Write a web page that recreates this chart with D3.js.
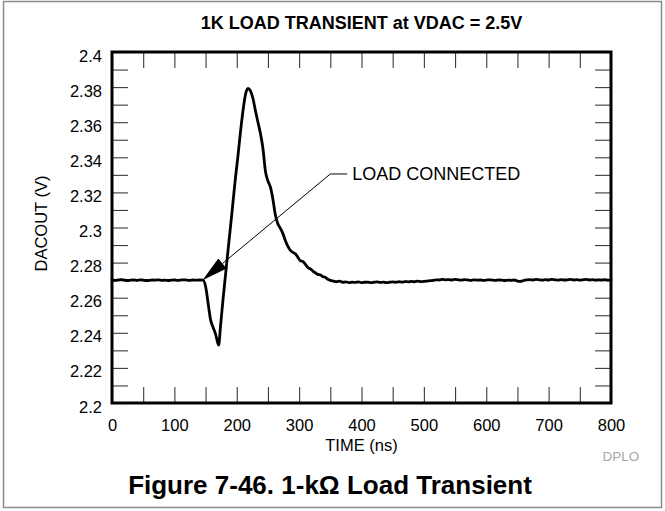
<!DOCTYPE html>
<html>
<head>
<meta charset="utf-8">
<script src="https://cdn.jsdelivr.net/npm/d3@7/dist/d3.min.js"></script>
<style>
  html, body { margin: 0; padding: 0; background: #fff; }
  svg { display: block; }
  text { font-family: "Liberation Sans", Arial, Helvetica, sans-serif; fill: #000; }
</style>
</head>
<body>
<script>
// ---------------- data ----------------
const chartTitle = "1K LOAD TRANSIENT at VDAC = 2.5V";
const xAxisTitle = "TIME (ns)";
const yAxisTitle = "DACOUT (V)";
const caption = "Figure 7-46. 1-k\u03A9 Load Transient";
const sourceTag = "DPLO";
const annotationText = "LOAD CONNECTED";

const xDomain = [0, 800];
const yDomain = [2.2, 2.4];
const xTickLabels = [0, 100, 200, 300, 400, 500, 600, 700, 800];
const xMinorTicks = [0, 50, 100, 150, 200, 250, 300, 350, 400, 450, 500, 550, 600, 650, 700, 750, 800];
const yTickLabels = [2.2, 2.22, 2.24, 2.26, 2.28, 2.3, 2.32, 2.34, 2.36, 2.38, 2.4];
const yMinorTicks = [2.2, 2.21, 2.22, 2.23, 2.24, 2.25, 2.26, 2.27, 2.28, 2.29, 2.3, 2.31, 2.32, 2.33, 2.34, 2.35, 2.36, 2.37, 2.38, 2.39, 2.4];

// annotation anchor (arrow tip), elbow, text anchor in data units
const annotationTip = [145, 2.2700];
const annotationElbow = [350, 2.3305];
const annotationLabel = [385, 2.3278];

const timeNs = [
  0, 5, 10, 15, 20, 25, 30, 35, 40, 45, 50, 55, 60, 65, 70, 75, 80, 85, 90, 95,
  100, 105, 110, 115, 120, 125, 130, 135, 140, 146,
  150, 155, 158, 162, 166, 170, 171, 174, 178, 182, 186, 190, 194, 198, 202, 206, 210, 214, 218,
  222, 226, 230, 234, 238, 242, 246, 250, 254, 258, 262, 266, 270, 274, 278, 282, 286, 290, 294, 298,
  302, 306, 310, 314, 318, 322, 326, 330, 334, 338, 342, 346, 350,
  355, 360, 365, 370, 375, 380, 385, 390, 395, 400, 405, 410, 415, 420, 425, 430, 435, 440, 445, 450,
  455, 460, 465, 470, 475, 480, 485, 490, 495, 500, 505, 510, 515, 520, 525, 530, 535, 540, 545, 550,
  555, 560, 565, 570, 575, 580, 585, 590, 595, 600, 605, 610, 615, 620, 625, 630, 635, 640, 645, 650,
  655, 660, 665, 670, 675, 680, 685, 690, 695, 700, 705, 710, 715, 720, 725, 730, 735, 740, 745, 750,
  755, 760, 765, 770, 775, 780, 785, 790, 795, 800
];
const dacoutV = [
  2.2702, 2.2699, 2.2701, 2.2703, 2.2700, 2.2698, 2.2700, 2.2701, 2.2699, 2.2702, 2.2700, 2.2698, 2.2699, 2.2701, 2.2700, 2.2702, 2.2699, 2.2700, 2.2698, 2.2700,
  2.2701, 2.2699, 2.2700, 2.2702, 2.2700, 2.2699, 2.2701, 2.2700, 2.2701, 2.2700,
  2.2665, 2.2545, 2.2475, 2.2432, 2.2392, 2.2338, 2.2330, 2.2440, 2.2590, 2.2730, 2.2870, 2.3005, 2.3145, 2.3285, 2.3410, 2.3545, 2.3665, 2.3758, 2.3792,
  2.3778, 2.3735, 2.3665, 2.3600, 2.3535, 2.3450, 2.3320, 2.3265, 2.3230, 2.3160, 2.3070, 2.3020, 2.2995, 2.2965, 2.2925, 2.2893, 2.2870, 2.2858, 2.2850, 2.2830,
  2.2810, 2.2806, 2.2790, 2.2772, 2.2764, 2.2752, 2.2742, 2.2733, 2.2730, 2.2720, 2.2716, 2.2705, 2.2699,
  2.2695, 2.2691, 2.2694, 2.2688, 2.2690, 2.2686, 2.2689, 2.2687, 2.2690, 2.2686, 2.2688, 2.2689, 2.2686, 2.2688, 2.2690, 2.2687, 2.2689, 2.2686, 2.2688, 2.2690,
  2.2688, 2.2691, 2.2689, 2.2692, 2.2690, 2.2693, 2.2691, 2.2694, 2.2692, 2.2693, 2.2695, 2.2697, 2.2699, 2.2702, 2.2701, 2.2704, 2.2702, 2.2703, 2.2701, 2.2704,
  2.2702, 2.2700, 2.2703, 2.2701, 2.2699, 2.2702, 2.2700, 2.2701, 2.2699, 2.2700, 2.2702, 2.2700, 2.2699, 2.2701, 2.2700, 2.2698, 2.2700, 2.2699, 2.2701, 2.2695,
  2.2693, 2.2698, 2.2701, 2.2703, 2.2701, 2.2704, 2.2702, 2.2700, 2.2703, 2.2701, 2.2704, 2.2702, 2.2700, 2.2703, 2.2701, 2.2702, 2.2704, 2.2701, 2.2703, 2.2700,
  2.2702, 2.2704, 2.2701, 2.2703, 2.2700, 2.2702, 2.2701, 2.2703, 2.2700, 2.2702
];

// ---------------- layout ----------------
const W = 665, H = 511;
const plot = { left: 112, top: 52, width: 499, height: 351 };

const svg = d3.select("body").append("svg")
  .attr("width", W).attr("height", H);

// outer page border
svg.append("rect")
  .attr("x", 3.5).attr("y", 1.5)
  .attr("width", 658).attr("height", 506)
  .attr("fill", "none").attr("stroke", "#8a8a8a").attr("stroke-width", 1.5);

const x = d3.scaleLinear().domain(xDomain).range([plot.left, plot.left + plot.width]);
const y = d3.scaleLinear().domain(yDomain).range([plot.top + plot.height, plot.top]);

const tickLen = 16;
const tickStroke = "#3a3a3a";

function styleTicks(g) {
  g.select(".domain").remove();
  g.selectAll(".tick line").attr("stroke", tickStroke).attr("stroke-width", 1.1);
  g.selectAll(".tick text").remove();
}

// inward minor ticks on all four sides
svg.append("g").attr("transform", `translate(0,${plot.top + plot.height})`)
  .call(d3.axisBottom(x).tickValues(xMinorTicks).tickSize(-tickLen).tickFormat(""))
  .call(styleTicks);
svg.append("g").attr("transform", `translate(0,${plot.top})`)
  .call(d3.axisTop(x).tickValues(xMinorTicks).tickSize(-tickLen).tickFormat(""))
  .call(styleTicks);
svg.append("g").attr("transform", `translate(${plot.left},0)`)
  .call(d3.axisLeft(y).tickValues(yMinorTicks).tickSize(-tickLen).tickFormat(""))
  .call(styleTicks);
svg.append("g").attr("transform", `translate(${plot.left + plot.width},0)`)
  .call(d3.axisRight(y).tickValues(yMinorTicks).tickSize(-tickLen).tickFormat(""))
  .call(styleTicks);

// tick labels
const xLab = svg.append("g").attr("transform", `translate(0,${plot.top + plot.height})`)
  .call(d3.axisBottom(x).tickValues(xTickLabels).tickSize(0).tickPadding(0).tickFormat(d3.format("d")));
xLab.select(".domain").remove();
xLab.selectAll(".tick text")
  .attr("y", 28).attr("dy", 0)
  .attr("font-size", 16.5).attr("fill", "#000")
  .style("font-family", '"Liberation Sans", Arial, sans-serif');

const yLab = svg.append("g").attr("transform", `translate(${plot.left},0)`)
  .call(d3.axisLeft(y).tickValues(yTickLabels).tickSize(0).tickPadding(0).tickFormat(d => String(+d.toFixed(2))));
yLab.select(".domain").remove();
yLab.selectAll(".tick text")
  .attr("x", -10).attr("dy", 9)
  .attr("font-size", 16.5).attr("fill", "#000")
  .style("font-family", '"Liberation Sans", Arial, sans-serif');

// data curve
const pts = timeNs.map((t, i) => [t, dacoutV[i]]);
const line = d3.line().x(d => x(d[0])).y(d => y(d[1])).curve(d3.curveMonotoneX);
svg.append("path")
  .datum(pts)
  .attr("d", line)
  .attr("fill", "none")
  .attr("stroke", "#000")
  .attr("stroke-width", 2.8)
  .attr("stroke-linejoin", "round")
  .attr("stroke-linecap", "round");

// plot frame
svg.append("rect")
  .attr("x", plot.left).attr("y", plot.top)
  .attr("width", plot.width).attr("height", plot.height)
  .attr("fill", "none").attr("stroke", "#000").attr("stroke-width", 3);

// annotation
const tipX = x(annotationTip[0]), tipY = y(annotationTip[1]);
const elX = x(annotationElbow[0]), elY = y(annotationElbow[1]);
const labX = x(annotationLabel[0]);
const ang = Math.atan2(elY - tipY, elX - tipX);
const headLen = 26, headHalf = 6.5;
const bx = tipX + headLen * Math.cos(ang), by = tipY + headLen * Math.sin(ang);
const px = -Math.sin(ang), py = Math.cos(ang);
svg.append("path")
  .attr("d", `M${bx},${by} L${elX},${elY} L${labX - 5},${elY}`)
  .attr("fill", "none").attr("stroke", "#000").attr("stroke-width", 1);
svg.append("path")
  .attr("d", `M${tipX},${tipY} L${bx + px * headHalf},${by + py * headHalf} L${bx - px * headHalf},${by - py * headHalf} Z`)
  .attr("fill", "#000");
svg.append("text")
  .attr("x", labX).attr("y", elY + 6)
  .attr("font-size", 18)
  .text(annotationText);

// titles
svg.append("text")
  .attr("x", plot.left + plot.width / 2).attr("y", 28.5)
  .attr("text-anchor", "middle")
  .attr("font-size", 18).attr("font-weight", "bold")
  .text(chartTitle);

svg.append("text")
  .attr("x", plot.left + plot.width / 2).attr("y", 451)
  .attr("text-anchor", "middle")
  .attr("font-size", 16.5)
  .text(xAxisTitle);

svg.append("text")
  .attr("transform", `translate(47,${plot.top + plot.height / 2 - 4}) rotate(-90)`)
  .attr("text-anchor", "middle")
  .attr("font-size", 16.5)
  .text(yAxisTitle);

svg.append("text")
  .attr("x", 621).attr("y", 461)
  .attr("text-anchor", "middle")
  .attr("font-size", 13.5)
  .style("fill", "#a8a8a8")
  .text(sourceTag);

svg.append("text")
  .attr("x", 330).attr("y", 494)
  .attr("text-anchor", "middle")
  .attr("font-size", 26).attr("font-weight", "bold")
  .text(caption);
</script>
</body>
</html>
